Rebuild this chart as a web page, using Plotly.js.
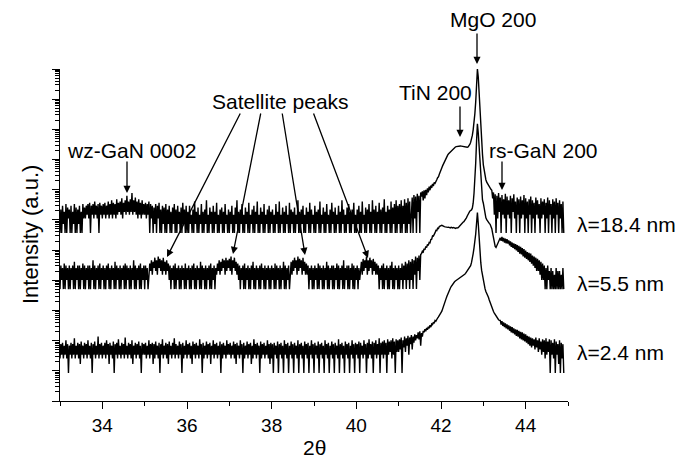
<!DOCTYPE html>
<html><head><meta charset="utf-8">
<script src="https://cdn.plot.ly/plotly-3.0.1.min.js"></script>
<style>html,body{margin:0;padding:0;background:#fff}#chart{width:692px;height:462px}</style>
</head><body><div id="chart"></div>
<script>
// 2-theta scan grid (instrument step)
const START_2THETA = 33.0;
const STEP_2THETA = 0.02;

// Vertical stacking factors used in the figure (log axis)
const OFFSET_18_4 = 3.7e5;
const OFFSET_5_5 = 5.1e3;
const OFFSET_2_4 = 8.5;

// lambda = 18.4 nm, counts read per 1 degree block
const T33 = [1,6,1,8,2,5,1,9,1,7, 3,6,1,8,1,5,2,9,1,7, 1,6,2,8,1,5,1,9,3,7, 3,8,4,9,3,10,1,8,4,9, 3,11,4,8,3,9,1,10,4,8];
const T34 = [3,9,4,10,3,8,4,11,3,9, 4,12,3,10,4,9,3,13,4,10, 5,11,4,14,3,10,5,12,4,17, 5,11,4,13,5,21,4,12,5,15, 4,11,3,13,4,10,3,12,4,9];
const T35 = [4,10,3,9,4,11,1,9,3,8, 1,7,2,9,1,8,3,10,1,6, 1,8,2,7,1,9,1,6,2,8, 1,5,1,7,2,9,1,6,1,8, 2,5,1,7,1,10,2,6,1,8];
const T36 = [1,5,1,8,2,4,1,6,1,11, 2,5,1,7,1,4,2,9,1,5, 1,6,2,12,1,4,1,7,2,5, 1,8,1,5,2,10,1,4,1,6, 2,7,1,5,1,9,2,4,1,6];
const T37 = [1,5,2,8,1,4,1,7,2,12, 1,5,1,6,2,9,1,4,1,7, 2,5,1,10,1,4,2,6,1,8, 1,5,2,11,1,4,1,7,2,5, 1,9,1,4,2,6,1,8,1,5];
const T38 = [2,6,1,4,1,9,2,5,1,11, 1,4,2,7,1,5,1,8,2,4, 1,10,1,6,2,5,1,7,1,4, 2,12,1,5,1,6,2,8,1,4, 1,7,2,5,1,10,1,6,2,4];
const T39 = [1,8,1,5,2,6,1,11,1,4, 2,7,1,5,1,9,2,4,1,6, 1,10,2,5,1,7,1,4,2,8, 1,5,1,12,2,6,1,4,1,7, 2,9,1,5,1,6,2,10,1,4];
const T40 = [1,6,2,8,1,5,1,11,2,4, 1,7,1,6,2,9,1,5,1,12, 2,6,1,8,1,5,2,10,1,6, 1,7,2,13,1,5,1,8,2,6, 1,11,1,7,2,9,1,12,1,8];
const T41 = [2,9,1,12,1,8,2,13,1,10, 1,14,2,11,1,4,15,1,18,3, 16,1,20,5,17,1,22,16,24,12, 26,14,27,18,30,22,34,26,37,31, 42,36,47,44,55,58,68,72,88,100];
const T42 = [125,145,170,200,235,270,310,345,385,420, 450,490,530,570,610,645,680,705,725,740, 755,762,765,760,755,745,730,715,700,690, 685,690,710,760,850,1000,1250,1700,2600,4500, 9000,22000,80000,270000,150000,40000,11000,3500,1100,400];
const T43 = [180,110,75,58,48,42,37,35,32,28, 26,14,22,4,19,1,17,3,21,5, 15,1,18,4,13,3,20,1,16,4, 12,3,17,1,14,5,19,3,11,1, 15,4,13,1,16,3,12,4,18,1];
const T44 = [14,3,11,1,13,4,16,1,12,3, 10,1,15,4,12,3,9,1,14,3, 11,4,13,1,10,3,15,1,12,4, 9,1,13,3,11,1,14,4,10,1, 12,3,9,1,11,1];

// lambda = 5.5 nm
const M33 = [1,6,2,5,1,7,1,6,2,5, 1,6,1,5,2,6,1,8,1,5, 2,6,1,6,1,5,2,7,1,6, 1,5,2,6,1,6,1,5,2,9, 1,6,1,5,2,6,1,7,1,5];
const M34 = [2,6,1,5,1,6,2,7,1,5, 1,6,2,5,1,8,1,6,2,5, 1,6,1,5,2,6,1,7,1,6, 2,5,1,6,1,5,2,9,1,6, 1,5,2,6,1,7,1,5,2,6];
const M35 = [1,6,2,5,1,3,7,4,9,3, 8,5,11,4,9,3,12,5,10,4, 9,3,11,4,8,3,9,4,7,2, 6,1,5,2,6,1,7,1,5,2, 6,1,5,1,6,2,5,1,7,1];
const M36 = [5,2,6,1,5,1,6,2,7,1, 5,1,6,2,5,1,8,1,6,2, 5,1,6,1,5,2,6,1,7,1, 5,2,6,1,5,3,7,4,9,3, 8,4,10,5,9,3,11,4,9,5];
const M37 = [10,4,12,3,9,5,11,4,8,3, 7,2,6,1,5,2,6,1,7,1, 5,2,6,1,5,1,6,2,8,1, 5,1,6,2,5,1,6,1,7,2, 5,1,6,1,5,2,6,1,5,1];
const M38 = [6,2,5,1,7,1,6,2,5,1, 6,1,5,2,8,1,6,1,5,2, 6,1,4,8,3,9,4,11,5,9, 3,12,4,10,5,9,3,11,4,8, 3,7,3,6,1,5,2,6,1,5];
const M39 = [1,6,2,5,1,7,1,6,2,5, 1,6,1,5,2,8,1,6,1,5, 2,6,1,6,1,5,2,7,1,6, 1,5,2,6,1,9,1,5,2,6, 1,6,1,5,2,7,1,6,1,5];
const M40 = [2,6,1,5,2,4,8,3,10,4, 9,5,12,3,9,4,11,5,9,3, 10,4,8,3,7,3,6,1,5,2, 6,1,7,1,5,2,6,1,5,1, 6,2,8,1,5,1,6,2,5,1];
const M41 = [6,1,5,2,7,1,6,2,8,1, 7,2,9,1,8,2,10,1,9,3, 12,1,11,4,13,2,14,15,18,17, 22,20,26,24,30,28,35,34,44,45, 58,57,72,74,88,86,104,101,118,119];
const M42 = [126,130,128,122,118,115,112,110,111,113, 110,107,112,109,106,110,104,103,106,104, 108,115,125,138,150,160,165,172,185,205, 230,265,310,350,380,400,420,480,700,1500, 4000,15000,80000,300000,150000,50000,16000,5000,2000,900];
const M43 = [700,420,290,230,200,175,160,150,140,125, 100,70,45,32,26,24,28,35,42,48, 50,40,54,38,50,35,47,33,45,32, 41,28,38,25,35,23,33,21,31,19, 29,17,27,15,25,14,23,12,21,11];
const M44 = [19,10,17,9,16,8,15,7,13,6, 12,5,11,4,10,4,9,3,8,2, 7,2,6,1,5,1,6,2,4,1, 5,1,4,1,3,1,5,1,4,1, 4,1,3,1,5,1];

// lambda = 2.4 nm
const B33 = [3,9,4,10,3,8,4,12,3,9, 1,8,4,10,3,9,4,14,3,8, 4,10,3,9,2,11,4,8,3,10, 4,9,3,12,4,8,3,10,1,9, 4,11,3,8,4,16,3,9,4,10];
const B34 = [3,8,4,10,3,12,4,9,2,10, 4,8,3,11,1,9,4,10,3,13, 4,8,3,10,4,9,3,15,4,8, 3,10,4,9,3,12,2,8,4,10, 3,9,4,11,3,8,1,10,4,9];
const B35 = [4,10,3,8,4,12,3,9,4,10, 2,9,3,11,4,8,3,10,1,9, 4,13,3,8,4,10,3,9,2,11, 4,8,3,10,4,14,3,9,4,8, 3,11,4,9,1,10,3,8,4,12];
const B36 = [3,9,4,10,3,8,2,11,4,9, 3,10,4,8,3,13,4,9,1,10, 3,8,4,11,3,9,4,10,2,8, 4,12,3,9,4,10,3,8,4,11, 1,9,3,10,4,8,3,12,4,9];
const B37 = [4,10,3,8,4,11,3,9,2,10, 4,8,3,12,4,9,1,10,3,8, 4,11,3,9,4,10,2,8,3,13, 4,9,3,10,4,8,1,11,3,9, 4,10,3,8,4,12,3,9,2,10];
const B38 = [3,9,1,10,4,8,3,11,1,9, 4,10,3,8,1,12,4,9,3,10, 1,8,4,11,3,9,1,10,4,8, 3,12,1,9,4,10,3,8,1,11, 4,9,3,10,1,8,4,12,3,9];
const B39 = [1,10,4,8,3,11,1,9,4,10, 3,8,1,12,4,9,3,10,1,8, 4,11,3,9,1,10,4,8,3,13, 1,9,4,10,3,8,1,11,4,9, 3,10,1,8,4,12,3,9,1,10];
const B40 = [4,9,3,11,1,10,4,8,3,12, 4,9,1,10,3,13,4,9,3,11, 1,10,4,12,3,9,4,14,1,10, 4,11,3,12,4,10,1,13,4,11, 5,12,3,14,4,11,1,13,5,12];
const B41 = [5,13,6,15,1,12,7,16,5,14, 8,17,4,15,9,18,6,16,10,19, 12,18,14,22,13,24,8,21,16,25, 22,28,24,31,27,34,30,38,33,42, 40,48,44,55,52,62,66,72,78,90];
const B42 = [100,112,140,165,200,240,290,350,420,490, 560,640,730,820,900,980,1050,1110,1160,1200, 1240,1290,1350,1420,1480,1540,1620,1720,1850,2000, 2200,2400,2600,2800,3100,3600,4500,6000,9000,14000, 22000,40000,90000,205000,90000,26000,10000,4500,2500,1600];
const B43 = [1100,800,620,500,440,380,320,260,210,170, 140,122,108,96,85,76,68,62,58,55, 55,40,52,36,47,33,44,30,41,28, 38,25,35,22,33,21,30,19,28,17, 27,16,25,14,23,13,22,12,20,11];
const B44 = [19,10,17,9,16,8,15,7,14,8, 13,6,15,7,12,5,14,6,11,4, 13,5,12,3,14,4,11,5,13,1, 12,4,10,3,13,1,11,4,9,2, 12,1,10,3,9,1];

const SCAN_LABELS = ['\u03bb=18.4 nm', '\u03bb=5.5 nm', '\u03bb=2.4 nm'];

const COUNTS_18_4 = [].concat(T33,T34,T35,T36,T37,T38,T39,T40,T41,T42,T43,T44);
const COUNTS_5_5  = [].concat(M33,M34,M35,M36,M37,M38,M39,M40,M41,M42,M43,M44);
const COUNTS_2_4  = [].concat(B33,B34,B35,B36,B37,B38,B39,B40,B41,B42,B43,B44);

function scan(counts, factor) {
  return {
    x: counts.map((_, i) => +(START_2THETA + i * STEP_2THETA).toFixed(2)),
    y: counts.map(c => c * factor),
    type: 'scatter', mode: 'lines',
    line: {color: '#000', width: 1.4},
    hoverinfo: 'skip'
  };
}

const data = [
  scan(COUNTS_18_4, OFFSET_18_4),
  scan(COUNTS_5_5, OFFSET_5_5),
  scan(COUNTS_2_4, OFFSET_2_4)
];

// layout geometry (pixels) -> paper coordinates for annotations
const W = 692, H = 462, ML = 60, MR = 124, MT = 69, MB = 61;
const PW = W - ML - MR, PH = H - MT - MB;
const px = v => (v - ML) / PW;
const py = v => (H - MB - v) / PH;
const FONT = '"Liberation Sans", Arial, Helvetica, sans-serif';

function label(text, x, y, opts) {
  return Object.assign({
    text: text, xref: 'paper', yref: 'paper', x: px(x), y: py(y),
    xanchor: 'center', yanchor: 'middle', showarrow: false,
    font: {family: FONT, size: 21, color: '#000'}
  }, opts || {});
}
function arrow(tipX, tipY, tailX, tailY) {
  return {
    text: '', xref: 'paper', yref: 'paper', x: px(tipX), y: py(tipY),
    ax: tailX - tipX, ay: tailY - tipY, showarrow: true,
    arrowhead: 2, arrowsize: 1.1, arrowwidth: 1.3, arrowcolor: '#000', standoff: 0, startstandoff: 0
  };
}

const annotations = [
  label('MgO 200', 493, 20),
  arrow(477, 64, 477, 32),
  label('TiN 200', 435, 92),
  arrow(460, 137, 460, 105),
  label('rs-GaN 200', 543, 150),
  arrow(502, 190, 502, 160),
  label('wz-GaN 0002', 131, 150),
  arrow(127, 193, 127, 160),
  label('Satellite peaks', 280, 101),
  arrow(167, 257, 241, 112),
  arrow(233, 254, 261, 112),
  arrow(305, 255, 282, 112),
  arrow(368, 258, 313, 112),
  label(SCAN_LABELS[0], 575, 224, {xanchor: 'left'}),
  label(SCAN_LABELS[1], 575, 283, {xanchor: 'left'}),
  label(SCAN_LABELS[2], 575, 352, {xanchor: 'left'}),
  label('Intensity (a.u.)', 30, 235, {textangle: -90, font: {family: FONT, size: 22, color: '#000'}}),
  label('2\u03b8', 314, 447, {font: {family: FONT, size: 21, color: '#000'}})
];

const layout = {
  width: W, height: H,
  margin: {l: ML, r: MR, t: MT, b: MB, pad: 0},
  paper_bgcolor: '#fff', plot_bgcolor: '#fff',
  showlegend: false,
  font: {family: FONT, color: '#000', size: 19},
  xaxis: {
    range: [33, 45], tick0: 34, dtick: 2,
    ticks: 'outside', ticklen: 7, tickwidth: 1, tickcolor: '#000',
    showline: true, linecolor: '#000', linewidth: 1,
    showgrid: false, zeroline: false,
    tickfont: {family: FONT, size: 19, color: '#000'},
    minor: {tick0: 33, dtick: 1, ticks: 'outside', ticklen: 4, tickcolor: '#000', showgrid: false}
  },
  yaxis: {
    type: 'log', range: [0, 11], dtick: 1,
    ticks: 'outside', ticklen: 7, tickwidth: 1, tickcolor: '#000',
    showticklabels: false,
    showline: true, linecolor: '#000', linewidth: 1,
    showgrid: false, zeroline: false,
    minor: {dtick: 'D1', ticks: 'outside', ticklen: 4, tickcolor: '#000', showgrid: false}
  },
  annotations: annotations
};

Plotly.newPlot('chart', data, layout, {staticPlot: true, displayModeBar: false});
</script>
</body></html>
